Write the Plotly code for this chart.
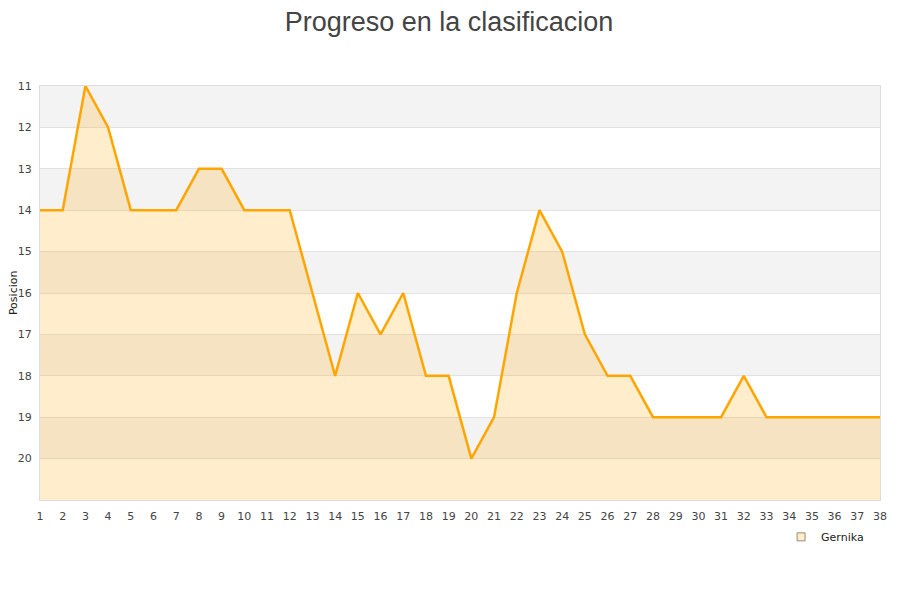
import plotly.graph_objects as go

# Datos de la clasificacion
jornadas = list(range(1, 39))
posiciones = [14, 14, 11, 12, 14, 14, 14, 13, 13, 14,
              14, 14, 16, 18, 16, 17, 16, 18, 18, 20,
              19, 16, 14, 15, 17, 18, 18, 19, 19, 19,
              19, 18, 19, 19, 19, 19, 19, 19]
equipo = "Gernika"
y_ticks = list(range(11, 21))
fondo = 21

fig = go.Figure()

# linea base para el relleno (parte de abajo del grafico)
fig.add_trace(go.Scatter(x=jornadas, y=[fondo] * len(jornadas), mode='lines',
                         line=dict(width=0), showlegend=False, hoverinfo='skip'))

fig.add_trace(go.Scatter(x=jornadas, y=posiciones, mode='lines', name=equipo,
                         fill='tonexty', fillcolor='rgba(255,165,0,0.2)',
                         line=dict(color='#FFA500', width=2.5), showlegend=False))

# entrada de leyenda con cuadrado
fig.add_trace(go.Scatter(x=[None], y=[None], mode='markers', name=equipo,
                         marker=dict(symbol='square', size=8, color='#FEEDCD',
                                     line=dict(color='#9a8a70', width=1))))

# bandas grises alternas
shapes = []
for y0 in range(11, 21, 2):
    shapes.append(dict(type='rect', xref='paper', yref='y', x0=0, x1=1, y0=y0, y1=y0 + 1,
                       fillcolor='#f3f3f3', line=dict(width=0), layer='below'))

fig.update_layout(
    title=dict(text='Progreso en la clasificacion', x=0.49, y=0.993, yref='container',
               xanchor='center', yanchor='top',
               font=dict(family='Liberation Sans', size=27, color='#444')),
    width=900, height=600,
    margin=dict(l=32, r=28, t=78, b=108, autoexpand=False),
    plot_bgcolor='white', paper_bgcolor='white',
    font=dict(family='DejaVu Sans', size=11, color='#444'),
    shapes=shapes,
    showlegend=True,
    legend=dict(x=0.987, y=-0.089, xanchor='right', yanchor='middle',
                font=dict(size=11, color='#222'), bgcolor='rgba(0,0,0,0)',
                itemwidth=30),
    annotations=[dict(text='Posicion', textangle=-90, xref='paper', yref='paper',
                      x=-0.032, y=0.5, xanchor='center', yanchor='middle',
                      showarrow=False, font=dict(size=11, color='#222'))],
    xaxis=dict(range=[1, 38], tickvals=jornadas, showgrid=False, zeroline=False,
               showline=True, linecolor='#ddd', mirror=True,
               ticks='outside', ticklen=6, tickcolor='rgba(0,0,0,0)',
               tickfont=dict(size=11, color='#444'), automargin=False),
    yaxis=dict(range=[fondo, 11], tickvals=y_ticks, autorange=False,
               showgrid=True, gridcolor='#e2e2e2', zeroline=False,
               showline=True, linecolor='#ddd', mirror=True,
               ticks='outside', ticklen=5, tickcolor='rgba(0,0,0,0)',
               tickfont=dict(size=11, color='#444'), automargin=False),
)

fig.write_html("out.html")
